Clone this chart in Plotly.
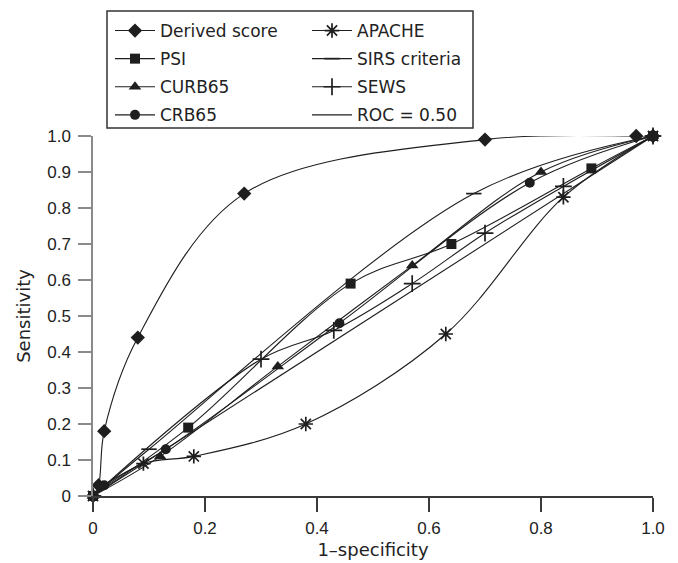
import plotly.graph_objects as go

# ---- data ----
derived_x = [0, 0.01, 0.02, 0.08, 0.27, 0.70, 0.97, 1.0]
derived_y = [0, 0.03, 0.18, 0.44, 0.84, 0.99, 1.0, 1.0]
psi_x = [0, 0.17, 0.46, 0.64, 0.89, 1.0]
psi_y = [0, 0.19, 0.59, 0.70, 0.91, 1.0]
curb65_x = [0, 0.12, 0.33, 0.57, 0.80, 1.0]
curb65_y = [0, 0.11, 0.36, 0.64, 0.90, 1.0]
crb65_x = [0, 0.02, 0.13, 0.44, 0.78, 1.0]
crb65_y = [0, 0.03, 0.13, 0.48, 0.87, 1.0]
apache_x = [0, 0.09, 0.18, 0.38, 0.63, 0.84, 1.0]
apache_y = [0, 0.09, 0.11, 0.20, 0.45, 0.83, 1.0]
sirs_x = [0, 0.10, 0.68, 1.0]
sirs_y = [0, 0.13, 0.84, 1.0]
sews_x = [0, 0.30, 0.43, 0.57, 0.70, 0.84, 1.0]
sews_y = [0, 0.38, 0.46, 0.59, 0.73, 0.86, 1.0]
roc_x = [0, 1.0]
roc_y = [0, 1.0]

x_tickvals = [0, 0.2, 0.4, 0.6, 0.8, 1.0]
x_ticktext = ["0", "0.2", "0.4", "0.6", "0.8", "1.0"]
y_tickvals = [0, 0.1, 0.2, 0.3, 0.4, 0.5, 0.6, 0.7, 0.8, 0.9, 1.0]
y_ticktext = ["0", "0.1", "0.2", "0.3", "0.4", "0.5", "0.6", "0.7", "0.8", "0.9", "1.0"]

INK = "#1e1e1e"
LINE_W = 1.1

fig = go.Figure()


def add(name, xs, ys, symbol, size, legend, rank, open_sym=False, markers=True):
    marker = dict(symbol=symbol, size=size, color=INK)
    if open_sym:
        marker["line"] = dict(color=INK, width=1.7)
    fig.add_trace(go.Scatter(
        x=xs, y=ys, name=name,
        mode="lines+markers" if markers else "lines",
        line=dict(color=INK, width=LINE_W, shape="spline", smoothing=1.0),
        marker=marker,
        legend=legend, legendrank=rank, legendgroup=name,
        cliponaxis=False,
    ))


# drawing order (PSI last so its squares sit on top at the ends)
add("ROC = 0.50", roc_x, roc_y, "circle", 1, "legend2", 4, markers=False)
add("SEWS", sews_x, sews_y, "cross-thin-open", 12, "legend2", 3, open_sym=True)
add("SIRS criteria", sirs_x, sirs_y, "line-ew-open", 11, "legend2", 2, open_sym=True)
add("APACHE", apache_x, apache_y, "asterisk-open", 12, "legend2", 1, open_sym=True)
add("CRB65", crb65_x, crb65_y, "circle", 10, "legend", 4)
add("CURB65", curb65_x, curb65_y, "triangle-up", 11, "legend", 3)
add("Derived score", derived_x, derived_y, "diamond", 11, "legend", 1)
add("PSI", psi_x, psi_y, "square", 10, "legend", 2)

# screen-pixel geometry of the plot area (page has an 8px body offset)
OFF = 8
PX_L, PX_T, PW, PH = 93, 136, 560, 360


def px2paper_x(px):
    return (px - PX_L) / PW


def px2paper_y(py):
    return (PX_T + PH - py) / PH


legend_font = dict(family="DejaVu Sans", size=17, color="#222222")
legend_common = dict(
    font=legend_font, bgcolor="rgba(0,0,0,0)", borderwidth=0,
    orientation="v", xanchor="left", yanchor="top",
    tracegroupgap=3, itemwidth=40, itemclick=False, itemdoubleclick=False,
)

fig.update_layout(
    template="none",
    width=678, height=563,
    margin=dict(l=PX_L - OFF, r=678 - (PX_L - OFF) - PW,
                t=PX_T - OFF, b=563 - (PX_T - OFF) - PH, autoexpand=False),
    paper_bgcolor="white", plot_bgcolor="white",
    showlegend=True,
    legend=dict(x=px2paper_x(110), y=px2paper_y(13), **legend_common),
    legend2=dict(x=px2paper_x(307), y=px2paper_y(13), **legend_common),
    xaxis=dict(
        range=[0, 1], tickvals=x_tickvals, ticktext=x_ticktext,
        showgrid=False, zeroline=False, automargin=False,
        showline=True, linecolor="#3a3a3a", linewidth=1.5,
        ticks="outside", ticklen=14, tickwidth=1.5, tickcolor="#3a3a3a",
        ticklabelstandoff=2,
        tickfont=dict(family="Liberation Sans, Arial", size=17, color="#222222"),
        title=dict(text="1\u2013specificity", standoff=6,
                   font=dict(family="DejaVu Sans", size=18, color="#222222")),
        fixedrange=True,
    ),
    yaxis=dict(
        range=[0, 1], tickvals=y_tickvals, ticktext=y_ticktext,
        showgrid=False, zeroline=False, automargin=False,
        showline=True, linecolor="#8a8a8a", linewidth=1.5,
        ticks="outside", ticklen=13, tickwidth=1.5, tickcolor="#8a8a8a",
        ticklabelstandoff=4,
        tickfont=dict(family="Liberation Sans, Arial", size=17, color="#222222"),
        title=dict(text="Sensitivity", standoff=12,
                   font=dict(family="DejaVu Sans", size=18, color="#222222")),
        fixedrange=True,
    ),
    shapes=[dict(
        type="rect", xref="paper", yref="paper",
        x0=px2paper_x(107), x1=px2paper_x(473),
        y0=px2paper_y(128), y1=px2paper_y(11),
        line=dict(color="#333333", width=1.5), fillcolor="rgba(0,0,0,0)",
        layer="above",
    )],
)

fig.write_html("out.html")
